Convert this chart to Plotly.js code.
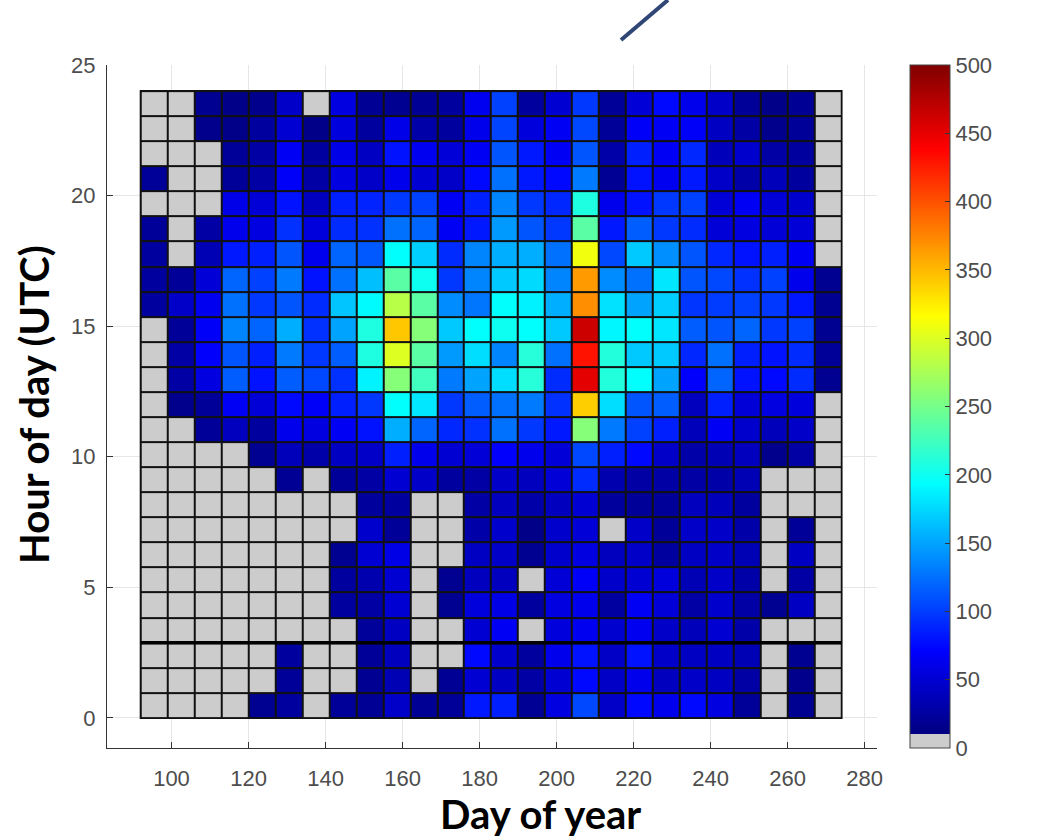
<!DOCTYPE html>
<html><head><meta charset="utf-8">
<script src="https://cdn.plot.ly/plotly-3.0.1.min.js"></script>
<style>html,body{margin:0;padding:0;background:#fff}#chart{width:1037px;height:840px}</style>
</head><body><div id="chart"></div>
<script>
// Bin edges (day of year, 7-day bins) and hour-of-day bins (25 bins over 24 h)
const dayEdges = [92,99,106,113,120,127,134,141,148,155,162,169,176,183,190,197,204,211,218,225,232,239,246,253,260,267,274];
const hourEdges = [0,0.96,1.92,2.88,3.84,4.8,5.76,6.72,7.68,8.64,9.6,10.56,11.52,12.48,13.44,14.4,15.36,16.32,17.28,18.24,19.2,20.16,21.12,22.08,23.04,24];
const xTicks = [100,120,140,160,180,200,220,240,260,280];
const yTicks = [0,5,10,15,20,25];
const cTicks = [0,50,100,150,200,250,300,350,400,450,500];
const xTitle = 'Day of year';
const yTitle = 'Hour of day (UTC)';

// counts per cell, one array per hour bin (bottom to top); 0 = no data (gray)
const r00 = [0,0,0,0,18,25,0,22,20,45,20,22,83,86,20,57,106,45,75,62,75,57,22,0,18,0];
const r01 = [0,0,0,0,0,22,0,0,19,35,0,20,50,42,28,50,75,44,62,40,45,42,28,0,16,0];
const r02 = [0,0,0,0,0,25,0,0,22,40,0,0,75,47,25,62,80,44,80,45,42,42,35,0,18,0];
const r03 = [0,0,0,0,0,0,0,0,23,42,0,0,50,66,0,55,64,48,64,45,38,50,30,0,0,0];
const r04 = [0,0,0,0,0,0,0,25,27,50,0,18,55,59,25,57,62,26,66,52,28,47,28,18,42,0];
const r05 = [0,0,0,0,0,0,0,25,32,50,0,18,40,40,0,52,68,46,50,55,35,45,30,0,28,0];
const r06 = [0,0,0,0,0,0,0,18,50,59,0,0,42,45,18,47,57,40,45,25,42,45,35,0,42,0];
const r07 = [0,0,0,0,0,0,0,0,47,22,0,0,30,47,14,47,52,0,45,22,45,45,30,0,22,0];
const r08 = [0,0,0,0,0,0,0,0,24,25,0,0,28,40,30,40,50,24,22,22,40,38,25,0,0,0];
const r09 = [0,0,0,0,0,20,0,22,28,50,45,25,28,45,40,52,92,32,28,28,28,30,35,0,0,0];
const r10 = [0,0,0,0,18,38,30,42,45,86,62,50,52,70,62,52,106,86,75,45,30,35,40,16,28,0];
const r11 = [0,0,22,40,25,62,57,66,80,155,120,90,95,125,98,83,258,130,102,86,38,66,47,38,45,0];
const r12 = [0,16,22,66,52,75,68,86,98,194,182,98,116,125,130,95,340,178,112,116,40,86,52,57,55,0];
const r13 = [0,28,57,116,80,116,106,95,188,258,225,130,150,178,212,92,452,210,194,150,70,120,80,75,92,18];
const r14 = [0,28,70,112,86,130,98,116,208,300,237,145,178,135,212,125,430,210,168,168,90,125,86,80,92,22];
const r15 = [0,22,68,135,120,155,95,150,208,343,258,168,194,200,194,168,463,190,194,182,116,112,120,98,102,18];
const r16 = [25,45,64,125,98,112,92,166,192,282,237,138,128,194,187,155,370,180,150,170,96,100,102,98,82,18];
const r17 = [25,22,52,120,102,130,80,125,163,237,200,98,135,168,176,135,365,138,125,182,112,106,95,102,62,18];
const r18 = [25,0,35,83,86,112,62,120,114,194,170,92,135,155,155,125,310,106,168,140,112,90,80,86,66,0];
const r19 = [22,0,28,62,57,95,55,92,95,125,120,66,83,145,112,98,237,83,116,98,92,52,57,52,52,0];
const r20 = [0,0,0,60,52,80,40,86,88,98,102,66,86,135,98,90,208,62,80,98,102,52,66,52,47,0];
const r21 = [22,0,0,22,28,68,28,57,45,62,50,45,75,125,83,75,130,20,80,64,83,45,30,38,25,0];
const r22 = [0,0,0,22,28,66,25,60,42,80,64,52,66,112,83,66,112,30,86,66,90,38,47,28,25,0];
const r23 = [0,0,16,14,25,50,14,55,25,60,30,25,62,104,55,66,106,22,68,66,68,42,28,16,22,0];
const r24 = [0,0,18,14,16,45,0,57,20,18,20,25,64,102,25,50,98,22,52,75,62,45,22,14,20,0];
const counts = [r00,r01,r02,r03,r04,r05,r06,r07,r08,r09,r10,r11,r12,r13,r14,r15,r16,r17,r18,r19,r20,r21,r22,r23,r24];

const grayJet = [[0,'#cccccc'],[0.02,'#cccccc'],[0.02,'#000080'],[0.1425,'#0000ff'],[0.3875,'#00ffff'],[0.6325,'#ffff00'],[0.8775,'#ff0000'],[1,'#800000']];

const tickFont = {family:'Liberation Sans, Arial, sans-serif', size:22, color:'#4d4d4d'};
const titleFont = {family:'Lato, Carlito, Calibri, sans-serif', size:40, color:'#000'};
const L = 107, R = 877, T = 65, B = 748;
const px2x = p => (p - L) / (R - L);
const px2y = p => (B - p) / (B - T);

const trace = {
  type:'heatmap', x:dayEdges, y:hourEdges, z:counts,
  zmin:0, zmax:500, colorscale:grayJet, xgap:2, ygap:2, hoverinfo:'skip',
  colorbar:{
    x:px2x(910), xanchor:'left', y:0.5, yanchor:'middle', len:1, lenmode:'fraction',
    thickness:40, thicknessmode:'pixels', xpad:0, ypad:0,
    outlinecolor:'#444', outlinewidth:1,
    tickmode:'array', tickvals:cTicks, ticks:'inside', ticklen:5, tickcolor:'#333',
    tickprefix:'\u00a0', tickfont:tickFont
  }
};

const layout = {
  width:1037, height:840,
  margin:{l:L, r:1037-R, t:T, b:840-B, pad:0},
  paper_bgcolor:'#ffffff', plot_bgcolor:'#ffffff',
  showlegend:false,
  font:{family:'Liberation Sans, Arial, sans-serif'},
  xaxis:{range:[83.25,283.2], tickmode:'array', tickvals:xTicks, ticks:'inside', ticklen:6, tickcolor:'#333',
    showline:true, linecolor:'#333', linewidth:1, mirror:false, showgrid:true, gridcolor:'#e6e6e6', gridwidth:1,
    zeroline:false, tickfont:tickFont, ticklabelstandoff:11},
  yaxis:{range:[-1.15,25], tickmode:'array', tickvals:yTicks, ticks:'inside', ticklen:6, tickcolor:'#333',
    showline:true, linecolor:'#333', linewidth:1, mirror:false, showgrid:true, gridcolor:'#e6e6e6', gridwidth:1,
    zeroline:false, tickfont:tickFont, ticklabelstandoff:6},
  shapes:[
    {type:'rect', xref:'x', yref:'y', x0:dayEdges[0], x1:dayEdges[dayEdges.length-1], y0:hourEdges[0], y1:hourEdges[hourEdges.length-1],
     fillcolor:'#111111', line:{color:'#111111', width:2}, layer:'between'},
    {type:'line', xref:'x', yref:'y', x0:dayEdges[0], x1:dayEdges[dayEdges.length-1], y0:hourEdges[3], y1:hourEdges[3],
     line:{color:'#000000', width:3.5}, layer:'above'},
    {type:'line', xref:'paper', yref:'paper', x0:px2x(621), y0:px2y(40), x1:px2x(668), y1:px2y(0),
     line:{color:'#2f4676', width:4}, layer:'above'}
  ],
  annotations:[
    {text:'<b>'+xTitle+'</b>', xref:'paper', yref:'paper', x:px2x(540), y:px2y(839), xanchor:'center', yanchor:'bottom',
     showarrow:false, font:titleFont, borderpad:0},
    {text:'<b>'+yTitle+'</b>', xref:'paper', yref:'paper', x:px2x(34), y:px2y(405), xanchor:'center', yanchor:'middle',
     textangle:-90, showarrow:false, font:titleFont}
  ]
};

Plotly.newPlot('chart', [trace], layout, {displayModeBar:false, staticPlot:true});
</script>
</body></html>
